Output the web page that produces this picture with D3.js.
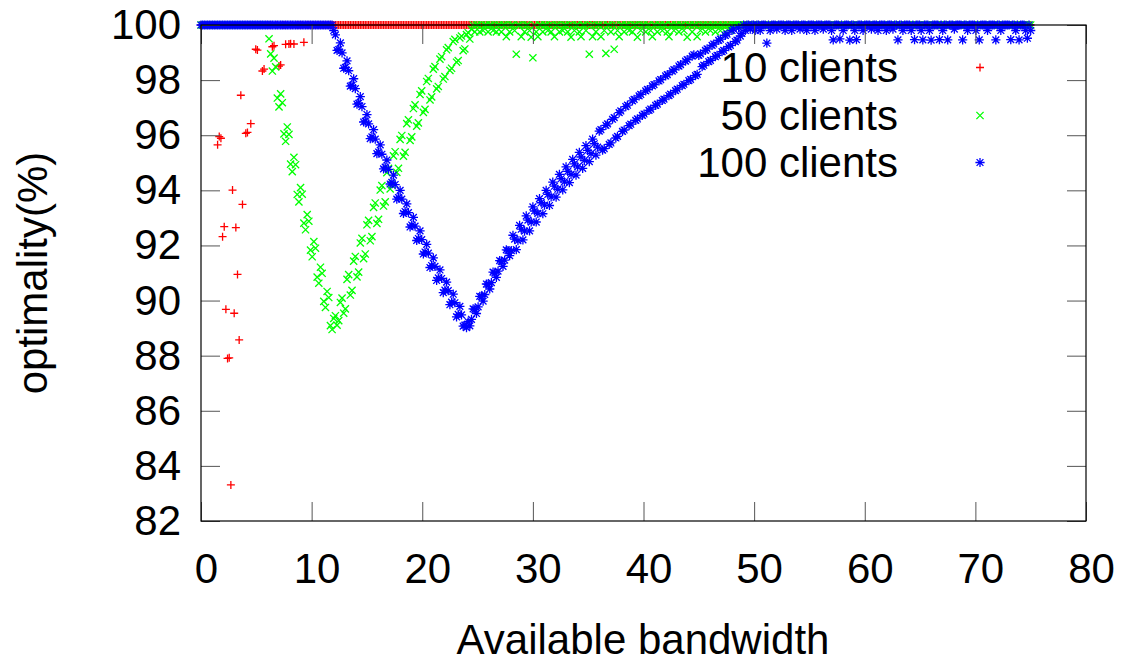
<!DOCTYPE html>
<html>
<head>
<meta charset="utf-8">
<script src="https://cdn.jsdelivr.net/npm/d3@7"></script>
<style>
  html, body { margin: 0; padding: 0; background: #ffffff; }
  svg { display: block; }
  text { font-family: "Liberation Sans", Arial, sans-serif; }
</style>
</head>
<body>
<script>
// ---------------- DATA ----------------
// Sampling grid of the available bandwidth (x axis), step 0.15 from 0 to 75
const bandwidthStep = 0.15;
const bandwidthCount = 501;
const bandwidth = d3.range(bandwidthCount).map(i => Math.round(i * bandwidthStep * 100) / 100);

const seriesNames = ["10 clients", "50 clients", "100 clients"];
const xTickValues = [0, 10, 20, 30, 40, 50, 60, 70, 80];
const yTickValues = [82, 84, 86, 88, 90, 92, 94, 96, 98, 100];

// optimality(%) of each series at each bandwidth sample
const clients10 = [
100,100,100,100,100,100,100,100,100,100,
95.65,95.95,95.89,92.32,92.68,89.68,87.9,87.92,83.31,94.01,
89.54,92.65,90.95,88.57,97.45,93.49,100,96.07,96.1,100,
96.42,100,100,99.12,99.09,100,100,98.33,98.4,100,
100,100,100,99.21,99.25,100,100,98.51,98.55,100,
100,99.3,100,99.31,99.32,100,99.31,100,100,100,
100,100,99.37,100,100,100,100,100,100,100,
100,100,100,100,100,100,100,100,100,100,
100,100,100,100,100,100,100,100,100,100,
100,100,100,100,100,100,100,100,100,100,
100,100,100,100,100,100,100,100,100,100,
100,100,100,100,100,100,100,100,100,100,
100,100,100,100,100,100,100,100,100,100,
100,100,100,100,100,100,100,100,100,100,
100,100,100,100,100,100,100,100,100,100,
100,100,100,100,100,100,100,100,100,100,
100,100,100,100,100,100,100,100,100,100,
100,100,100,100,100,100,100,100,100,100,
100,100,100,100,100,100,100,100,100,100,
100,100,100,100,100,100,100,100,100,100,
100,100,100,100,100,100,100,100,100,100,
100,100,100,100,100,100,100,100,100,100,
100,100,100,100,100,100,100,100,100,100,
100,100,100,100,100,100,100,100,100,100,
100,100,100,100,100,100,100,100,100,100,
100,100,100,100,100,100,100,100,100,100,
100,100,100,100,100,100,100,100,100,100,
100,100,100,100,100,100,100,100,100,100,
100,100,100,100,100,100,100,100,100,100,
100,100,100,100,100,100,100,100,100,100,
100,100,100,100,100,100,100,100,100,100,
100,100,100,100,100,100,100,100,100,100,
100,100,100,100,100,100,100,100,100,100,
100,100,100,100,100,100,100,100,100,100,
100,100,100,100,100,100,100,100,100,100,
100,100,100,100,100,100,100,100,100,100,
100,100,100,100,100,100,100,100,100,100,
100,100,100,100,100,100,100,100,100,100,
100,100,100,100,100,100,100,100,100,100,
100,100,100,100,100,100,100,100,100,100,
100,100,100,100,100,100,100,100,100,100,
100,100,100,100,100,100,100,100,100,100,
100,100,100,100,100,100,100,100,100,100,
100,100,100,100,100,100,100,100,100,100,
100,100,100,100,100,100,100,100,100,100,
100,100,100,100,100,100,100,100,100,100,
100,100,100,100,100,100,100,100,100,100,
100,100,100,100,100,100,100,100,100,100,
100,100,100,100,100,100,100,100,100,100,
100,100,100,100,100,100,100,100,100,100,
100
];

const clients50 = [
100,100,100,100,100,100,100,100,100,100,
100,100,100,100,100,100,100,100,100,100,
100,100,100,100,100,100,100,100,100,100,
100,100,100,100,100,100,100,100,100,100,
100,99.5,98.95,98.33,98.80,98.48,97.35,97.03,97.50,97.18,
96.05,95.78,96.30,96.03,94.95,94.68,95.20,94.93,93.85,93.58,
94.10,93.86,92.81,92.57,93.12,92.88,91.83,91.59,92.14,91.90,
90.85,90.63,91.21,90.99,89.97,89.75,90.33,90.11,89.09,88.95,
89.35,89.45,89.11,89.27,89.93,90.09,89.54,89.70,90.77,90.94,
90.20,90.37,91.43,91.60,90.86,91.03,92.09,92.26,91.52,91.69,
92.75,92.91,92.17,92.32,93.38,93.54,92.80,92.95,94.01,94.17,
93.43,93.58,94.64,94.80,94.05,94.20,95.25,95.40,94.65,94.80,
95.85,95.99,95.24,95.38,96.42,96.56,95.81,95.94,96.97,97.10,
96.33,96.45,97.48,97.61,96.83,96.94,97.95,98.06,97.28,97.39,
98.40,98.49,97.68,97.77,98.76,98.85,98.04,98.13,99.10,99.18,
98.35,98.43,99.40,99.48,98.65,98.71,99.53,99.60,99.07,99.13,
99.65,99.72,99.49,99.85,100,99.75,100,100,99.75,100,
99.8,100,100,99.75,100,100,99.8,100,99.75,100,
100,99.75,100,100,99.58,100,99.75,100,100,99.8,
98.94,100,100,99.58,100,99.75,100,100,99.8,99.56,
98.81,100,99.75,99.58,100,100,99.75,100,100,99.8,
100,99.75,100,99.58,100,100,99.75,100,99.8,100,
100,99.75,100,99.56,100,99.8,100,100,99.75,99.58,
100,100,99.8,100,98.94,100,99.58,100,99.75,100,
100,99.58,100,99.8,98.97,100,100,99.75,100,99.12,
100,99.8,99.58,100,100,99.75,100,100,99.8,100,
99.75,100,100,99.56,100,99.8,100,100,99.75,100,
100,99.8,99.58,100,100,99.75,100,100,99.8,100,
100,99.75,99.58,100,100,99.8,100,100,99.75,100,
100,99.8,100,99.56,100,100,99.75,100,100,99.58,
100,99.8,100,100,99.75,100,100,99.8,100,100,
99.75,100,100,99.8,100,100,99.75,100,100,99.8,
100,100,100,100,100,100,100,100,100,100,
100,100,100,100,100,100,100,100,100,100,
100,100,100,100,100,100,100,100,100,100,
100,100,100,100,100,100,100,100,100,100,
100,100,100,100,100,100,100,100,100,100,
100,100,100,100,100,100,100,100,100,100,
100,100,100,100,100,100,100,100,100,100,
100,100,100,100,100,100,100,100,100,100,
100,100,100,100,100,100,100,100,100,100,
100,100,100,100,100,100,100,100,100,100,
100,100,100,100,100,100,100,100,100,100,
100,100,100,100,100,100,100,100,100,100,
100,100,100,100,100,100,100,100,100,100,
100,100,100,100,100,100,100,100,100,100,
100,100,100,100,100,100,100,100,100,100,
100,100,100,100,100,100,100,100,100,100,
100,100,100,100,100,100,100,100,100,100,
100,100,100,100,100,100,100,100,100,100,
100
];

const clients100 = [
100,100,100,100,100,100,100,100,100,100,
100,100,100,100,100,100,100,100,100,100,
100,100,100,100,100,100,100,100,100,100,
100,100,100,100,100,100,100,100,100,100,
100,100,100,100,100,100,100,100,100,100,
100,100,100,100,100,100,100,100,100,100,
100,100,100,100,100,100,100,100,100,100,
100,100,100,100,100,100,100,100,100,100,
99.80,99.64,99.08,99.11,99.35,98.99,98.43,98.46,98.70,98.34,
97.78,97.81,98.05,97.69,97.13,97.16,97.40,97.04,96.48,96.51,
96.75,96.41,95.88,95.94,96.20,95.86,95.33,95.39,95.65,95.31,
94.78,94.84,95.10,94.76,94.23,94.29,94.55,94.21,93.68,93.74,
94.00,93.68,93.16,93.23,93.51,93.19,92.67,92.74,93.02,92.70,
92.18,92.25,92.53,92.21,91.69,91.76,92.04,91.72,91.20,91.27,
91.55,91.24,90.73,90.82,91.11,90.80,90.29,90.38,90.67,90.36,
89.85,89.94,90.23,89.92,89.41,89.50,89.79,89.48,89.07,89.11,
89.02,89.23,89.08,89.32,89.70,89.68,89.53,89.77,90.15,90.14,
89.98,90.22,90.60,90.59,90.42,90.65,91.03,91.00,90.84,91.07,
91.45,91.42,91.24,91.47,91.84,91.81,91.63,91.81,92.37,92.23,
91.85,92.17,92.73,92.59,92.20,92.52,93.07,92.92,92.53,92.85,
93.40,93.25,92.85,93.16,93.70,93.55,93.15,93.46,94.00,93.85,
93.45,93.76,94.30,94.15,93.75,94.04,94.58,94.42,94.02,94.31,
94.85,94.69,94.28,94.58,95.12,94.96,94.55,94.85,95.38,95.21,
94.80,95.09,95.62,95.45,95.04,95.33,95.86,95.69,95.28,95.57,
96.15,96.20,95.46,95.51,96.36,96.41,95.67,95.72,96.58,96.64,
95.90,95.96,96.82,96.88,96.14,96.19,97.04,97.09,96.35,96.40,
97.25,97.30,96.54,96.59,97.43,97.48,96.72,96.77,97.61,97.66,
96.90,96.95,97.79,97.84,97.08,97.13,97.97,98.02,97.26,97.31,
98.15,98.20,97.44,97.49,98.33,98.38,97.62,97.67,98.51,98.56,
97.80,97.85,98.69,98.74,97.98,98.03,98.87,98.92,98.16,98.21,
98.90,98.95,98.49,98.54,99.08,99.13,98.67,98.72,99.26,99.31,
98.85,98.90,99.44,99.49,99.03,99.08,99.62,99.67,99.21,99.26,
99.80,99.85,99.40,99.45,99.90,99.6,99.7,100,99.8,100,
100,99.85,100,100,99.8,100,100,99.8,100,100,
100,99.34,100,99.8,100,100,100,99.85,100,100,
100,100,99.8,100,100,100,99.8,100,100,100,
100,99.85,100,100,100,99.8,100,100,100,100,
99.8,100,100,100,100,99.85,100,100,100,100,
99.8,99.46,100,100,100,99.5,100,99.8,100,100,
100,99.45,100,100,99.8,99.47,100,100,100,99.8,
100,100,100,100,99.85,100,100,100,99.8,100,
100,100,100,99.8,100,100,100,99.85,100,100,
99.46,100,100,99.8,100,100,100,100,99.8,100,
99.47,100,100,100,99.8,99.46,100,100,100,99.8,
99.45,100,100,100,100,99.47,100,99.8,100,100,
99.46,100,100,100,99.85,100,100,100,100,99.46,
100,100,99.8,100,100,100,100,99.8,100,99.46,
100,100,100,100,99.8,100,100,100,100,99.46,
100,100,99.8,100,100,100,100,100,99.47,100,
100,99.8,100,99.46,100,100,100,99.8,99.52,100,
99.8
];

const seriesValues = [clients10, clients50, clients100];
const seriesColors = ["#ff0000", "#00ff00", "#0000ff"];
const seriesMarkers = ["plus", "cross", "star"];

// ---------------- DRAWING ----------------
const W = 1124, H = 664;
const plot = { left: 201, right: 1086, top: 25, bottom: 521 };
const FONT = 42;

const x = d3.scaleLinear().domain([0, 80]).range([plot.left, plot.right]);
const y = d3.scaleLinear().domain([82, 100]).range([plot.bottom, plot.top]);

const svg = d3.select("body").append("svg").attr("width", W).attr("height", H);
svg.append("rect").attr("width", W).attr("height", H).attr("fill", "#fff");

function markerPath(type) {
  const p = s => `M${-s},0H${s}M0,${-s}V${s}`;
  const c = s => `M${-s},${-s}L${s},${s}M${-s},${s}L${s},${-s}`;
  if (type === "plus") return p(4);
  if (type === "cross") return c(3.6);
  return p(4.6) + c(3.4);
}

seriesValues.forEach((vals, si) => {
  const g = svg.append("g")
    .attr("fill", "none")
    .attr("stroke", seriesColors[si])
    .attr("stroke-width", 1.3);
  const pts = vals.map((v, i) => ({ bw: bandwidth[i], v }));
  g.selectAll("path").data(pts).join("path")
    .attr("d", markerPath(seriesMarkers[si]))
    .attr("transform", d => `translate(${x(d.bw)},${y(d.v)})`);
});

// axes with inward, mirrored ticks
const tickColor = "#555";
function styleAxis(sel) {
  sel.select(".domain").remove();
  sel.selectAll(".tick line").attr("stroke", tickColor).attr("stroke-width", 1);
  sel.selectAll(".tick text")
    .attr("fill", "#000")
    .style("font-size", FONT + "px")
    .style("font-family", '"Liberation Sans", Arial, sans-serif');
}

const gx = svg.append("g").attr("transform", `translate(0,${plot.bottom})`)
  .call(d3.axisBottom(x).tickValues(xTickValues).tickSize(-19).tickPadding(32).tickFormat(d3.format("d")));
styleAxis(gx);
gx.selectAll(".tick text").attr("dx", 5);

const gy = svg.append("g").attr("transform", `translate(${plot.left},0)`)
  .call(d3.axisLeft(y).tickValues(yTickValues).tickSize(-19).tickPadding(20).tickFormat(d3.format("d")));
styleAxis(gy);

const gxt = svg.append("g").attr("transform", `translate(0,${plot.top})`)
  .call(d3.axisTop(x).tickValues(xTickValues).tickSize(-19).tickFormat(""));
styleAxis(gxt);

const gyr = svg.append("g").attr("transform", `translate(${plot.right},0)`)
  .call(d3.axisRight(y).tickValues(yTickValues).tickSize(-19).tickFormat(""));
styleAxis(gyr);

// border
svg.append("rect")
  .attr("x", plot.left).attr("y", plot.top)
  .attr("width", plot.right - plot.left).attr("height", plot.bottom - plot.top)
  .attr("fill", "none").attr("stroke", "#000").attr("stroke-width", 1.2);

// legend
const legendBaselines = [82, 130, 177];
seriesNames.forEach((name, i) => {
  svg.append("text")
    .attr("x", 898).attr("y", legendBaselines[i])
    .attr("text-anchor", "end")
    .style("font-size", FONT + "px")
    .text(name);
  svg.append("path")
    .attr("d", markerPath(seriesMarkers[i]))
    .attr("transform", `translate(980,${legendBaselines[i] - 14.5})`)
    .attr("fill", "none").attr("stroke", seriesColors[i]).attr("stroke-width", 1.3);
});

// axis titles
svg.append("text")
  .attr("x", 643).attr("y", 654)
  .attr("text-anchor", "middle")
  .style("font-size", FONT + "px")
  .text("Available bandwidth");

svg.append("text")
  .attr("transform", "translate(47,273) rotate(-90)")
  .attr("text-anchor", "middle")
  .style("font-size", FONT + "px")
  .text("optimality(%)");
</script>
</body>
</html>
